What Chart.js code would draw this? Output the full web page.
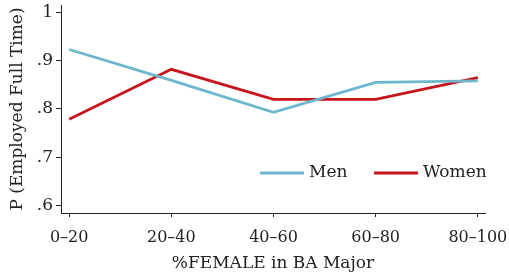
<!DOCTYPE html>
<html>
<head>
<meta charset="utf-8">
<script src="https://cdn.jsdelivr.net/npm/chart.js@4"></script>
<style>
  html, body { margin: 0; padding: 0; background: #fff; }
  #wrap { width: 509px; height: 279px; }
</style>
</head>
<body>
<div id="wrap"><canvas id="myChart" width="509" height="279"></canvas></div>
<script>
const categories = ["0–20", "20–40", "40–60", "60–80", "80–100"];
const menValues = [0.923, 0.859, 0.793, 0.855, 0.858];
const womenValues = [0.779, 0.882, 0.820, 0.820, 0.865];
const yTicks = [0.6, 0.7, 0.8, 0.9, 1.0];
const yTickLabels = [".6", ".7", ".8", ".9", "1"];

const serif = "'DejaVu Serif', serif";
const ink = "#222";

// legend sits inside the plot, bottom right
const insideLegend = {
  id: "insideLegend",
  afterDraw(chart) {
    const ctx = chart.ctx;
    const y = 173;
    const items = [
      { text: "Men", color: "#6db6cc", x: 260 },
      { text: "Women", color: "#c8151d", x: 374 },
    ];
    ctx.save();
    ctx.font = "17px " + serif;
    ctx.textBaseline = "middle";
    ctx.fillStyle = ink;
    items.forEach(({ text, color, x }) => {
      ctx.strokeStyle = color;
      ctx.lineWidth = 2.8;
      ctx.beginPath();
      ctx.moveTo(x, y);
      ctx.lineTo(x + 44, y);
      ctx.stroke();
      ctx.fillText(text, x + 49, y);
    });
    ctx.restore();
  },
};

const toPoints = (arr) => arr.map((v, i) => ({ x: i, y: v }));

const data = {
  datasets: [
    {
      label: "Men",
      data: toPoints(menValues),
      borderColor: "#6db6cc",
      borderWidth: 2.8,
      pointRadius: 0,
      tension: 0,
    },
    {
      label: "Women",
      data: toPoints(womenValues),
      borderColor: "#c8151d",
      borderWidth: 2.8,
      pointRadius: 0,
      tension: 0,
    },
  ],
};

const config = {
  type: "line",
  data: data,
  plugins: [insideLegend],
  options: {
    responsive: false,
    animation: false,
    layout: { padding: { top: 5, right: 24, left: 0, bottom: 0 } },
    plugins: {
      legend: { display: false },
      tooltip: { enabled: false },
    },
    scales: {
      x: {
        type: "linear",
        min: -0.08,
        max: 4.07,
        afterBuildTicks: (axis) => {
          axis.ticks = categories.map((c, i) => ({ value: i }));
        },
        afterFit: (axis) => {
          axis.height = 66;
          axis.paddingLeft = 0;
          axis.paddingRight = 0;
        },
        ticks: {
          callback: (v) => categories[v],
          color: ink,
          font: { family: serif, size: 16 },
          padding: 11,
          maxRotation: 0,
          autoSkip: false,
        },
        grid: {
          display: true,
          drawOnChartArea: false,
          drawTicks: true,
          tickLength: 4,
          color: ink,
        },
        border: { display: true, color: ink, width: 1 },
        title: {
          display: true,
          text: "%FEMALE in BA Major",
          color: ink,
          font: { family: serif, size: 17 },
          padding: { top: 2, bottom: 5 },
        },
      },
      y: {
        min: 0.585,
        max: 1.015,
        afterBuildTicks: (axis) => {
          axis.ticks = yTicks.map((v) => ({ value: v }));
        },
        afterFit: (axis) => {
          axis.width = 61;
          axis.paddingTop = 0;
          axis.paddingBottom = 0;
        },
        ticks: {
          callback: (v) => yTickLabels[yTicks.findIndex((t) => Math.abs(t - v) < 1e-6)],
          color: ink,
          font: { family: serif, size: 17 },
          padding: 3,
        },
        grid: {
          display: true,
          drawOnChartArea: false,
          drawTicks: true,
          tickLength: 5,
          color: ink,
        },
        border: { display: true, color: ink, width: 1 },
        title: {
          display: true,
          text: "P (Employed Full Time)",
          color: ink,
          font: { family: serif, size: 17 },
          padding: { top: 7, bottom: 2 },
        },
      },
    },
  },
};

new Chart(document.getElementById("myChart"), config);
</script>
</body>
</html>
